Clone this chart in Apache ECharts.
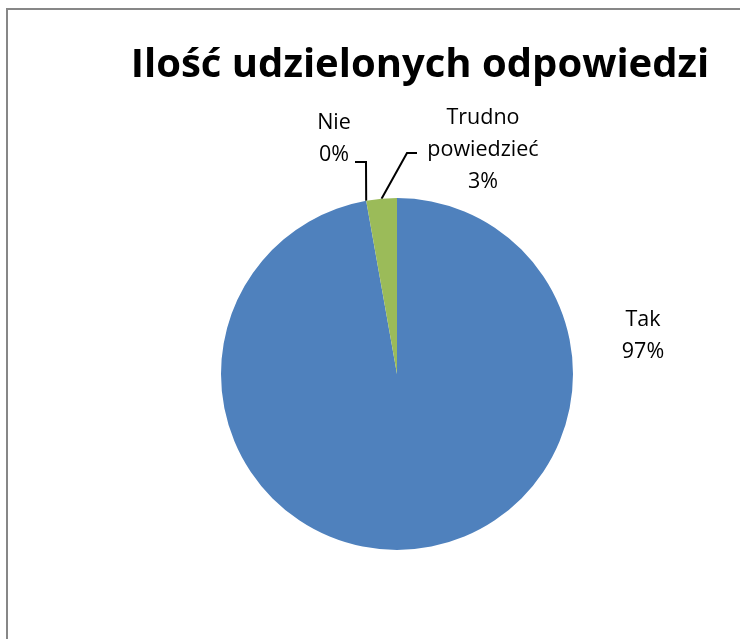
<!DOCTYPE html>
<html>
<head>
<meta charset="utf-8">
<script src="https://cdn.jsdelivr.net/npm/echarts@6/dist/echarts.min.js"></script>
<style>
  html, body { margin: 0; padding: 0; background: #fff; }
  #chart { width: 740px; height: 639px; }
</style>
</head>
<body>
<div id="chart"></div>
<script>
const categories = ['Tak', 'Nie', 'Trudno powiedzieć']
const values = [97.2, 0, 2.8]
const colors = ['#4F81BD', '#C0504D', '#9BBB59']
// label anchor spots (Excel-style manual placement)
const labelSpots = [
  { x: 643, y: 336 },
  { x: 334, y: 139 },
  { x: 483, y: 150 }
]
// bend + end of leader lines, null = no leader
const leaderBends = [
  null,
  [[366, 162], [355, 162]],
  [[407, 153], [417, 153]]
]

const chart = echarts.init(document.getElementById('chart'))
chart.setOption({
  animation: false,
  textStyle: { fontFamily: 'Open Sans' },
  title: {
    text: 'Ilość udzielonych odpowiedzi',
    left: 415,
    top: 41,
    textAlign: 'center',
    textStyle: {
      fontSize: 40,
      fontWeight: 'bold',
      color: '#000',
      fontFamily: 'Open Sans'
    }
  },
  graphic: [{
    type: 'rect',
    shape: { x: 7, y: 9, width: 800, height: 700 },
    style: { fill: 'none', stroke: '#878787', lineWidth: 2 },
    silent: true
  }],
  series: [{
    type: 'pie',
    center: [397, 374],
    radius: 176,
    startAngle: 90,
    clockwise: true,
    data: categories.map((name, i) => ({
      name: name,
      value: values[i],
      itemStyle: { color: colors[i] },
      labelLine: { show: leaderBends[i] !== null }
    })),
    label: {
      show: true,
      formatter: function(p) {
        const n = p.name === 'Trudno powiedzieć' ? 'Trudno\npowiedzieć' : p.name
        return n + '\n' + Math.round(p.percent) + '%'
      },
      fontSize: 21.5,
      lineHeight: 32,
      color: '#000',
      fontFamily: 'Open Sans'
    },
    labelLine: {
      lineStyle: { color: '#000', width: 2 }
    },
    labelLayout: function(params) {
      const s = labelSpots[params.dataIndex]
      const res = { x: s.x, y: s.y, align: 'center', verticalAlign: 'middle' }
      const bend = leaderBends[params.dataIndex]
      if (bend && params.labelLinePoints) {
        res.labelLinePoints = [params.labelLinePoints[0]].concat(bend)
      }
      return res
    },
    itemStyle: { borderWidth: 0 }
  }]
})
</script>
</body>
</html>
